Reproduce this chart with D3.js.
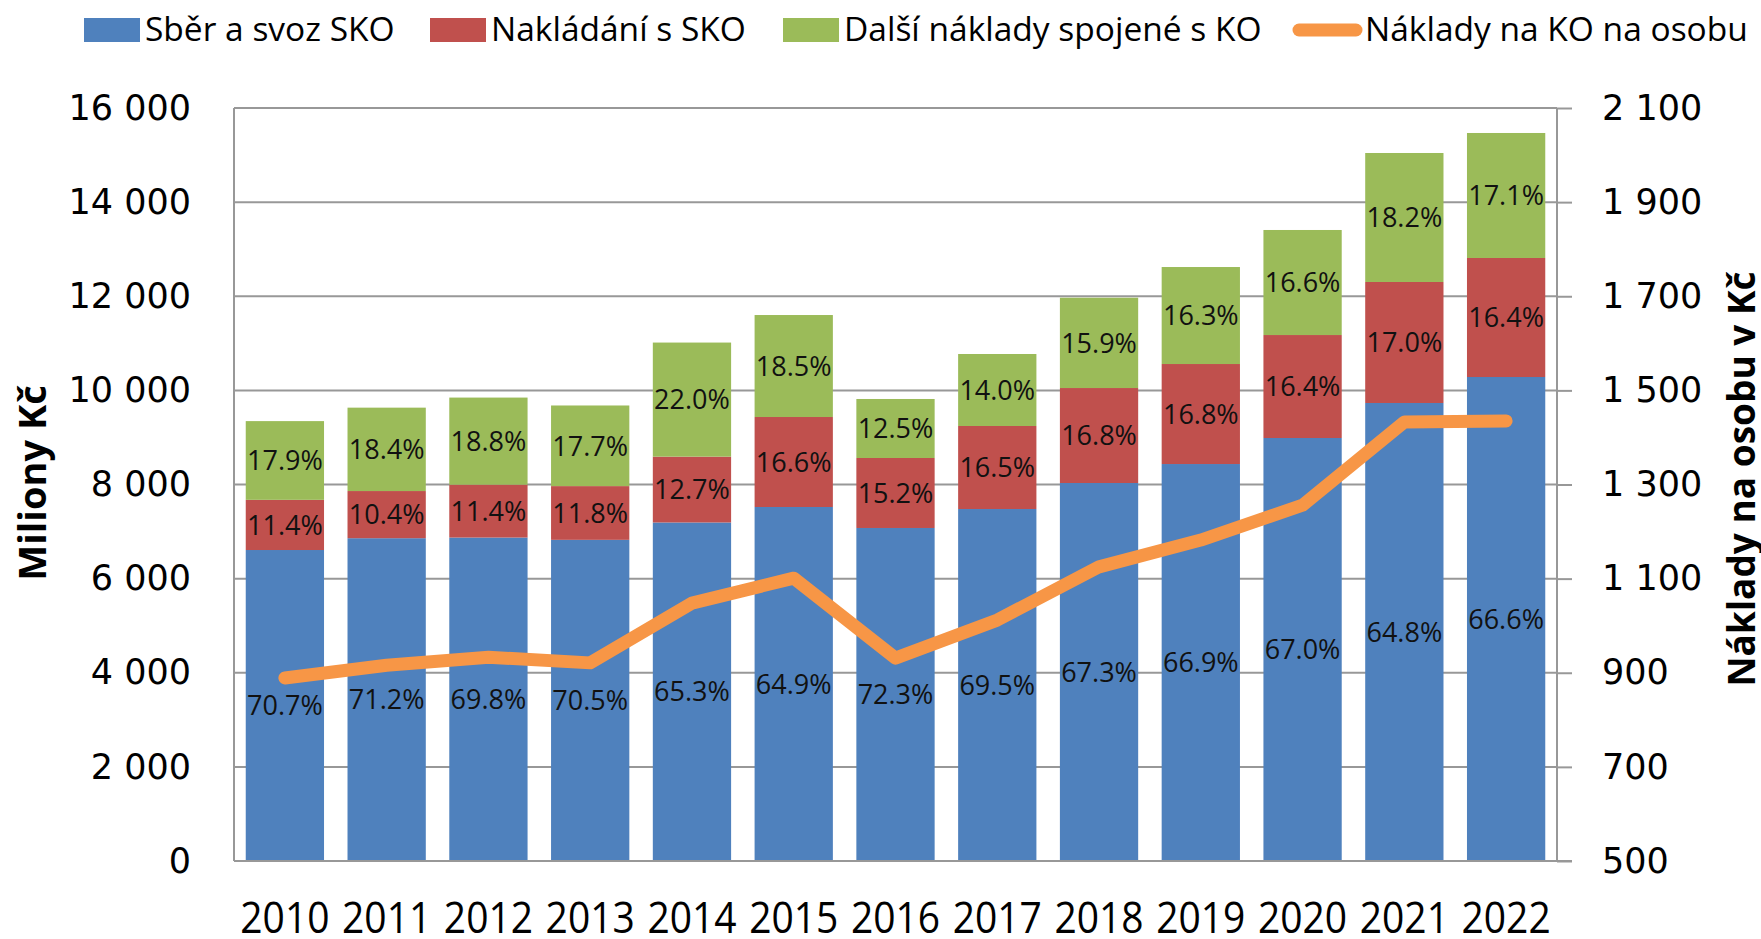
<!DOCTYPE html>
<html>
<head>
<meta charset="utf-8">
<script src="https://cdn.jsdelivr.net/npm/d3@7"></script>
<style>
  body { margin: 0; background: #fff; }
  svg { display: block; }
</style>
</head>
<body>
<div id="chart"></div>
<script>
// roky
var roky = ["2010", "2011", "2012", "2013", "2014", "2015", "2016", "2017", "2018", "2019", "2020", "2021", "2022"];
// milióny Kč
var sberSvoz = [6608, 6859, 6873, 6824, 7193, 7522, 7076, 7479, 8032, 8435, 8988, 9732, 10284];
var nakladani = [1066, 1002, 1123, 1142, 1399, 1912, 1487, 1764, 2018, 2125, 2188, 2571, 2529];
var dalsi = [1673, 1772, 1851, 1713, 2424, 2167, 1254, 1530, 1919, 2061, 2232, 2741, 2656];
// Kč na osobu
var naOsobu = [889, 916, 933, 921, 1048, 1101, 931, 1012, 1125, 1182, 1256, 1433, 1435];
// popisky v procentech
var pctSber = ["70.7%", "71.2%", "69.8%", "70.5%", "65.3%", "64.9%", "72.3%", "69.5%", "67.3%", "66.9%", "67.0%", "64.8%", "66.6%"];
var pctNakladani = ["11.4%", "10.4%", "11.4%", "11.8%", "12.7%", "16.6%", "15.2%", "16.5%", "16.8%", "16.8%", "16.4%", "17.0%", "16.4%"];
var pctDalsi = ["17.9%", "18.4%", "18.8%", "17.7%", "22.0%", "18.5%", "12.5%", "14.0%", "15.9%", "16.3%", "16.6%", "18.2%", "17.1%"];
// osy
var levyTicks = [0, 2000, 4000, 6000, 8000, 10000, 12000, 14000, 16000];
var pravyTicks = [500, 700, 900, 1100, 1300, 1500, 1700, 1900, 2100];

function kresliGraf() {
    var serie = [
        { nazev: "Sběr a svoz SKO", hodnoty: sberSvoz, popisky: pctSber, barva: "#4F81BD" },
        { nazev: "Nakládání s SKO", hodnoty: nakladani, popisky: pctNakladani, barva: "#C0504D" },
        { nazev: "Další náklady spojené s KO", hodnoty: dalsi, popisky: pctDalsi, barva: "#9BBB59" }
    ];

    var width = 1761, height = 939;
    var pLeft = 234, pRight = 1557, pTop = 108, pBottom = 861;
    var sedá = "#989898";

    var svg = d3.select("#chart").append("svg")
        .attr("width", width)
        .attr("height", height);

    var x = d3.scaleBand().domain(roky).range([pLeft, pRight]).paddingInner(0.3 / 1.3).paddingOuter(0.15 / 1.3);
    var y = d3.scaleLinear().domain([0, 16000]).range([pBottom, pTop]);
    var y2 = d3.scaleLinear().domain([500, 2100]).range([pBottom, pTop]);

    // mřížka
    svg.append("g").selectAll("line").data(levyTicks).enter().append("line")
        .attr("x1", pLeft).attr("x2", pRight)
        .attr("y1", function (d) { return y(d); })
        .attr("y2", function (d) { return y(d); })
        .attr("stroke", sedá).attr("stroke-width", 2);

    // skládané sloupce
    var stack = roky.map(function (r, i) {
        var z = 0;
        return serie.map(function (s) {
            var o = { rok: r, y0: z, y1: z + s.hodnoty[i], barva: s.barva, popisek: s.popisky[i] };
            z += s.hodnoty[i];
            return o;
        });
    });
    var segs = [].concat.apply([], stack);

    svg.append("g").selectAll("rect").data(segs).enter().append("rect")
        .attr("x", function (d) { return x(d.rok); })
        .attr("width", x.bandwidth())
        .attr("y", function (d) { return y(d.y1); })
        .attr("height", function (d) { return y(d.y0) - y(d.y1); })
        .attr("fill", function (d) { return d.barva; });

    // osy
    svg.append("line").attr("x1", pLeft).attr("x2", pLeft).attr("y1", pTop).attr("y2", pBottom)
        .attr("stroke", sedá).attr("stroke-width", 2);
    svg.append("line").attr("x1", pRight).attr("x2", pRight).attr("y1", pTop).attr("y2", pBottom)
        .attr("stroke", sedá).attr("stroke-width", 2);
    svg.append("line").attr("x1", pLeft).attr("x2", pRight + 15).attr("y1", pBottom).attr("y2", pBottom)
        .attr("stroke", sedá).attr("stroke-width", 2);

    var fmt = function (d) { return d3.format(",")(d).replace(/,/g, " "); };

    var osaL = d3.axisLeft(y).tickValues(levyTicks).tickSize(0).tickPadding(43).tickFormat(fmt);
    var gL = svg.append("g").attr("transform", "translate(" + pLeft + ",0)").call(osaL);
    var osaR = d3.axisRight(y2).tickValues(pravyTicks).tickSize(15).tickPadding(30).tickFormat(fmt);
    var gR = svg.append("g").attr("transform", "translate(" + pRight + ",0)").call(osaR);
    [gL, gR].forEach(function (g) {
        g.select(".domain").remove();
        g.selectAll("line").attr("stroke", sedá).attr("stroke-width", 2);
        g.selectAll("text").attr("font-family", "'DejaVu Sans', Verdana, sans-serif")
            .attr("font-size", 35).attr("fill", "#000");
    });

    // roky dole
    svg.append("g").selectAll("text").data(roky).enter().append("text")
        .attr("transform", function (d) {
            return "translate(" + (x(d) + x.bandwidth() / 2) + ",933) scale(1,1.12)";
        })
        .attr("text-anchor", "middle")
        .attr("font-family", "'Open Sans', sans-serif")
        .attr("font-size", 39)
        .attr("fill", "#000")
        .text(function (d) { return d; });

    // čára náklady na osobu
    var line = d3.line()
        .x(function (d, i) { return x(roky[i]) + x.bandwidth() / 2; })
        .y(function (d) { return y2(d); });
    svg.append("path").datum(naOsobu)
        .attr("d", line)
        .attr("fill", "none")
        .attr("stroke", "#F79646")
        .attr("stroke-width", 13)
        .attr("stroke-linejoin", "round")
        .attr("stroke-linecap", "round");

    // procentní popisky
    svg.append("g").selectAll("text").data(segs).enter().append("text")
        .attr("x", function (d) { return x(d.rok) + x.bandwidth() / 2; })
        .attr("y", function (d) { return (y(d.y0) + y(d.y1)) / 2; })
        .attr("dy", "0.36em")
        .attr("text-anchor", "middle")
        .attr("font-family", "'Open Sans', sans-serif")
        .attr("font-size", 27)
        .attr("fill", "#111")
        .text(function (d) { return d.popisek; });

    // názvy os
    svg.append("text")
        .attr("transform", "translate(46,483) rotate(-90)")
        .attr("text-anchor", "middle")
        .attr("font-family", "'Open Sans', sans-serif")
        .attr("font-weight", "bold")
        .attr("font-size", 38)
        .text("Miliony Kč");
    svg.append("text")
        .attr("transform", "translate(1755,479) rotate(-90)")
        .attr("text-anchor", "middle")
        .attr("font-family", "'Open Sans', sans-serif")
        .attr("font-weight", "bold")
        .attr("font-size", 37)
        .text("Náklady na osobu v Kč");

    // legenda
    var legX = [84, 430, 783, 1293];
    var leg = svg.append("g");
    serie.forEach(function (s, i) {
        leg.append("rect").attr("x", legX[i]).attr("y", 18).attr("width", 56).attr("height", 24).attr("fill", s.barva);
        leg.append("text").attr("x", legX[i] + 61).attr("y", 41)
            .attr("font-family", "'Open Sans', sans-serif").attr("font-size", 33.5).attr("fill", "#000")
            .text(s.nazev);
    });
    leg.append("line").attr("x1", legX[3] + 6).attr("x2", legX[3] + 63).attr("y1", 30).attr("y2", 30)
        .attr("stroke", "#F79646").attr("stroke-width", 13).attr("stroke-linecap", "round");
    leg.append("text").attr("x", legX[3] + 72).attr("y", 41)
        .attr("font-family", "'Open Sans', sans-serif").attr("font-size", 33.5).attr("fill", "#000")
        .text("Náklady na KO na osobu");
}

kresliGraf();
</script>
</body>
</html>
